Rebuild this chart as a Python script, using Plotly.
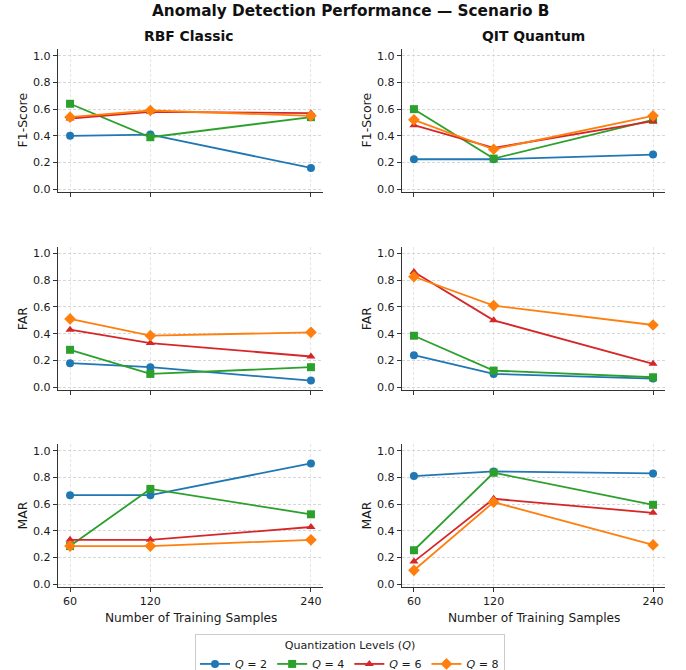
import plotly.graph_objects as go

samples = [60, 120, 240]
q_labels = ["<i>Q</i> = 2", "<i>Q</i> = 4", "<i>Q</i> = 6", "<i>Q</i> = 8"]
colors = ["#1f77b4", "#2ca02c", "#d62728", "#ff7f0e"]
symbols = ["circle", "square", "triangle-up", "diamond"]
methods = ["RBF Classic", "QIT Quantum"]
metrics = ["F1-Score", "FAR", "MAR"]

# RBF Classic
rbf_f1 = [[0.40, 0.41, 0.16], [0.64, 0.39, 0.54], [0.53, 0.58, 0.57], [0.54, 0.59, 0.55]]
rbf_far = [[0.18, 0.15, 0.05], [0.28, 0.10, 0.15], [0.43, 0.33, 0.23], [0.51, 0.385, 0.41]]
rbf_mar = [[0.667, 0.667, 0.905], [0.286, 0.714, 0.524], [0.333, 0.333, 0.429], [0.286, 0.286, 0.333]]
# QIT Quantum
qit_f1 = [[0.225, 0.225, 0.26], [0.60, 0.23, 0.52], [0.48, 0.31, 0.51], [0.52, 0.30, 0.55]]
qit_far = [[0.24, 0.10, 0.065], [0.385, 0.125, 0.075], [0.86, 0.50, 0.175], [0.825, 0.61, 0.465]]
qit_mar = [[0.81, 0.845, 0.83], [0.255, 0.835, 0.595], [0.17, 0.64, 0.535], [0.105, 0.615, 0.295]]

data = {
    (0, 0): rbf_f1, (0, 1): qit_f1,
    (1, 0): rbf_far, (1, 1): qit_far,
    (2, 0): rbf_mar, (2, 1): qit_mar,
}

W, H = 686, 670


def px(x):
    return x / W


def py(y):
    return 1 - y / H


xpix = [(58, 323), (402, 665)]
xdom = [[px(a), px(b)] for (a, b) in xpix]
ypix = [(49, 192), (246.6, 390), (444, 587)]
ydom = [[py(b), py(t)] for (t, b) in ypix]

FONT = "DejaVu Sans"
TXT = "#1a1a1a"
fig = go.Figure()
layout = dict(
    width=W, height=H,
    margin=dict(l=0, r=0, t=0, b=0, autoexpand=False),
    paper_bgcolor="white", plot_bgcolor="white",
    font=dict(family=FONT, size=11.1, color=TXT),
    showlegend=True,
)
annotations = []

idx = 0
for r in range(3):
    for c in range(2):
        idx += 1
        xa = "x" if idx == 1 else f"x{idx}"
        ya = "y" if idx == 1 else f"y{idx}"
        series = data[(r, c)]
        for k in range(4):
            fig.add_trace(go.Scatter(
                x=samples, y=series[k], mode="lines+markers",
                name=q_labels[k], legendgroup=q_labels[k],
                showlegend=(idx == 1),
                line=dict(color=colors[k], width=1.8),
                marker=dict(color=colors[k], symbol=symbols[k], size=8 if k != 3 else 9),
                xaxis=xa, yaxis=ya,
            ))
        xkey = "xaxis" if idx == 1 else f"xaxis{idx}"
        ykey = "yaxis" if idx == 1 else f"yaxis{idx}"
        layout[xkey] = dict(
            domain=xdom[c], anchor=ya, range=[51, 249],
            tickvals=samples, ticktext=[str(s) for s in samples],
            showticklabels=(r == 2), ticks="outside", ticklen=4, tickcolor="#333",
            showline=True, linecolor="#333", linewidth=1.2,
            showgrid=True, gridcolor="#e6e6e6", griddash="3px,2px", gridwidth=0.8,
            zeroline=False,
        )
        layout[ykey] = dict(
            domain=ydom[r], anchor=xa, range=[-0.02, 1.05],
            tickvals=[0, 0.2, 0.4, 0.6, 0.8, 1.0], tickformat=".1f",
            ticks="outside", ticklen=4, tickcolor="#333",
            showline=True, linecolor="#333", linewidth=1.2,
            showgrid=True, gridcolor="#d6d6d6", griddash="3px,2px", gridwidth=0.8,
            zeroline=False,
        )
        # y-axis title
        ycen = (ypix[r][0] + ypix[r][1]) / 2
        annotations.append(dict(
            text=metrics[r], x=px(xpix[c][0] - 36), y=py(ycen), xref="paper", yref="paper",
            textangle=-90, showarrow=False, font=dict(size=12.5, color=TXT),
            xanchor="center", yanchor="middle"))
        if r == 2:
            annotations.append(dict(
                text="Number of Training Samples", x=px((xpix[c][0] + xpix[c][1]) / 2 + 0.5),
                y=py(618), xref="paper", yref="paper", showarrow=False,
                font=dict(size=12.2, color=TXT), xanchor="center", yanchor="middle"))

annotations += [
    dict(text="<b>Anomaly Detection Performance — Scenario B</b>", x=px(351), y=py(11),
         xref="paper", yref="paper", showarrow=False, font=dict(size=15.3, color="#111"),
         xanchor="center", yanchor="middle"),
    dict(text="<b>RBF Classic</b>", x=px(189), y=py(36), xref="paper", yref="paper",
         showarrow=False, font=dict(size=13.9, color="#111"), xanchor="center", yanchor="middle"),
    dict(text="<b>QIT Quantum</b>", x=px(533), y=py(36), xref="paper", yref="paper",
         showarrow=False, font=dict(size=13.9, color="#111"), xanchor="center", yanchor="middle"),
]
layout["annotations"] = annotations
layout["legend"] = dict(
    orientation="h", xref="paper", yref="paper",
    x=px(350), xanchor="center", y=py(634), yanchor="top",
    bordercolor="#cccccc", borderwidth=1, bgcolor="white",
    title=dict(text="Quantization Levels (<i>Q</i>)", side="top center", font=dict(size=11.1)),
    font=dict(size=11.1), itemwidth=30, tracegroupgap=0,
)
fig.update_layout(**layout)
fig.write_html("out.html", config={"displayModeBar": False},
               post_script="document.body.style.margin='0px';")
